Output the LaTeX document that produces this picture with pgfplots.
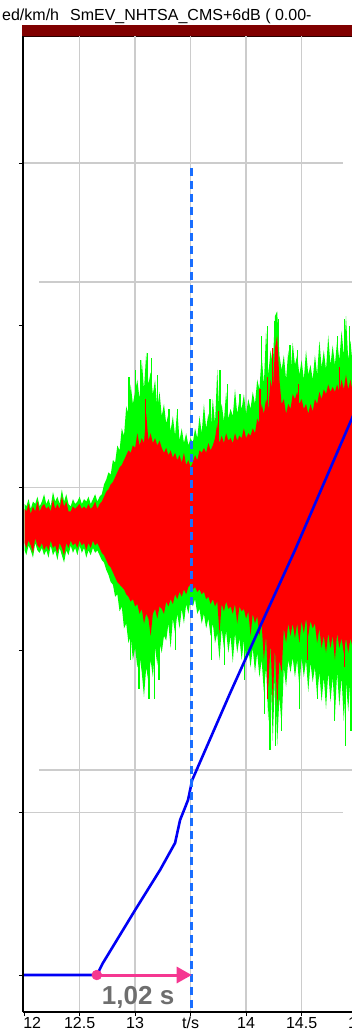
\documentclass[border=0pt]{standalone}
\usepackage{fontspec}
\setmainfont{Liberation Sans}
\usepackage{pgfplots}
\pgfplotsset{compat=1.18}
\usepackage{pgfplotstable}
\usepgfplotslibrary{fillbetween}
\usetikzlibrary{arrows.meta}
\definecolor{sigred}{RGB}{255,0,0}
\definecolor{siggreen}{RGB}{0,255,0}
\definecolor{gridgray}{RGB}{204,204,204}
\definecolor{dashblue}{RGB}{25,110,255}
\definecolor{speedblue}{RGB}{0,0,245}
\definecolor{hotpink}{RGB}{245,55,145}
\definecolor{barred}{RGB}{128,0,0}
\definecolor{txtgray}{RGB}{110,110,110}

% signal envelopes: green top/bottom, red top/bottom
\pgfplotstableread{
t gt gb rt rb
12.005 0.09 -0.10 0.07 -0.07
12.02 0.08 -0.12 0.06 -0.09
12.04 0.11 -0.08 0.09 -0.06
12.06 0.07 -0.10 0.05 -0.08
12.08 0.10 -0.13 0.08 -0.11
12.10 0.09 -0.07 0.06 -0.05
12.12 0.12 -0.10 0.10 -0.08
12.14 0.08 -0.11 0.06 -0.09
12.16 0.10 -0.09 0.08 -0.07
12.18 0.13 -0.12 0.09 -0.10
12.20 0.09 -0.10 0.07 -0.08
12.22 0.11 -0.13 0.08 -0.10
12.24 0.08 -0.08 0.06 -0.06
12.26 0.14 -0.12 0.11 -0.09
12.28 0.10 -0.10 0.07 -0.08
12.30 0.12 -0.14 0.09 -0.11
12.32 0.09 -0.09 0.07 -0.07
12.34 0.15 -0.12 0.12 -0.09
12.36 0.10 -0.15 0.08 -0.12
12.38 0.13 -0.10 0.10 -0.07
12.40 0.09 -0.12 0.06 -0.09
12.42 0.08 -0.08 0.06 -0.06
12.44 0.11 -0.11 0.08 -0.08
12.46 0.09 -0.09 0.07 -0.07
12.48 0.10 -0.12 0.08 -0.09
12.50 0.12 -0.08 0.09 -0.06
12.52 0.09 -0.11 0.07 -0.08
12.54 0.11 -0.09 0.08 -0.07
12.56 0.10 -0.13 0.07 -0.10
12.58 0.12 -0.10 0.09 -0.07
12.60 0.09 -0.12 0.07 -0.09
12.62 0.11 -0.09 0.08 -0.06
12.64 0.13 -0.11 0.10 -0.08
12.66 0.10 -0.10 0.07 -0.07
12.68 0.12 -0.12 0.09 -0.09
12.70 0.13 -0.14 0.10 -0.11
12.72 0.17 -0.15 0.12 -0.12
12.74 0.19 -0.18 0.14 -0.14
12.76 0.22 -0.20 0.15 -0.16
12.78 0.21 -0.23 0.17 -0.17
12.80 0.27 -0.24 0.18 -0.19
12.82 0.26 -0.29 0.20 -0.21
12.84 0.33 -0.28 0.22 -0.23
12.86 0.31 -0.35 0.24 -0.24
12.88 0.40 -0.33 0.25 -0.25
12.90 0.37 -0.42 0.27 -0.26
12.92 0.49 -0.40 0.29 -0.28
12.94 0.46 -0.48 0.31 -0.29
12.96 0.58 -0.45 0.30 -0.31
12.98 0.50 -0.55 0.33 -0.30
13.00 0.55 -0.50 0.32 -0.33
13.02 0.60 -0.58 0.38 -0.32
13.04 0.52 -0.53 0.33 -0.36
13.06 0.68 -0.60 0.36 -0.34
13.08 0.56 -0.70 0.34 -0.40
13.10 0.71 -0.58 0.46 -0.36
13.12 0.58 -0.64 0.35 -0.38
13.14 0.63 -0.55 0.38 -0.45
13.16 0.54 -0.62 0.34 -0.36
13.18 0.60 -0.50 0.36 -0.34
13.20 0.48 -0.57 0.33 -0.38
13.22 0.55 -0.48 0.35 -0.33
13.24 0.45 -0.52 0.32 -0.34
13.26 0.50 -0.45 0.30 -0.36
13.28 0.42 -0.47 0.32 -0.31
13.30 0.46 -0.40 0.29 -0.33
13.32 0.39 -0.50 0.31 -0.30
13.34 0.45 -0.38 0.28 -0.32
13.36 0.37 -0.44 0.30 -0.28
13.38 0.48 -0.36 0.27 -0.30
13.40 0.35 -0.42 0.29 -0.27
13.42 0.40 -0.34 0.26 -0.29
13.44 0.34 -0.40 0.30 -0.26
13.46 0.38 -0.32 0.25 -0.28
13.48 0.33 -0.36 0.27 -0.25
13.50 0.36 -0.30 0.24 -0.24
13.52 0.34 -0.33 0.26 -0.26
13.54 0.40 -0.30 0.29 -0.25
13.56 0.36 -0.36 0.27 -0.27
13.58 0.45 -0.34 0.31 -0.26
13.60 0.38 -0.40 0.30 -0.28
13.62 0.50 -0.36 0.32 -0.27
13.64 0.40 -0.42 0.30 -0.30
13.66 0.46 -0.38 0.34 -0.29
13.68 0.39 -0.45 0.31 -0.32
13.70 0.52 -0.40 0.33 -0.30
13.72 0.42 -0.48 0.36 -0.33
13.74 0.64 -0.44 0.42 -0.31
13.76 0.45 -0.55 0.34 -0.44
13.78 0.50 -0.42 0.37 -0.32
13.80 0.43 -0.50 0.34 -0.35
13.82 0.55 -0.43 0.38 -0.31
13.84 0.44 -0.52 0.35 -0.34
13.86 0.48 -0.45 0.36 -0.33
13.88 0.45 -0.56 0.34 -0.36
13.90 0.56 -0.44 0.38 -0.32
13.92 0.46 -0.52 0.35 -0.40
13.94 0.52 -0.46 0.37 -0.33
13.96 0.48 -0.55 0.36 -0.35
13.98 0.54 -0.47 0.40 -0.34
14.00 0.46 -0.54 0.36 -0.38
14.02 0.52 -0.50 0.38 -0.35
14.04 0.48 -0.58 0.37 -0.45
14.06 0.55 -0.50 0.40 -0.36
14.08 0.50 -0.60 0.38 -0.40
14.10 0.60 -0.52 0.44 -0.37
14.12 0.56 -0.62 0.42 -0.45
14.14 0.70 -0.55 0.50 -0.40
14.16 0.58 -0.68 0.46 -0.55
14.18 0.80 -0.58 0.52 -0.45
14.20 0.62 -0.80 0.48 -0.66
14.22 0.72 -0.60 0.60 -0.48
14.24 0.66 -0.88 0.55 -0.72
14.26 0.86 -0.62 0.73 -0.50
14.28 0.88 -0.90 0.78 -0.74
14.30 0.70 -0.70 0.60 -0.55
14.32 0.64 -0.82 0.50 -0.60
14.34 0.70 -0.58 0.52 -0.42
14.36 0.60 -0.66 0.46 -0.48
14.38 0.72 -0.55 0.50 -0.40
14.40 0.62 -0.60 0.48 -0.45
14.42 0.75 -0.54 0.54 -0.40
14.44 0.66 -0.62 0.52 -0.46
14.46 0.70 -0.55 0.55 -0.40
14.48 0.62 -0.66 0.50 -0.48
14.50 0.68 -0.54 0.52 -0.39
14.52 0.60 -0.62 0.48 -0.44
14.54 0.72 -0.55 0.50 -0.38
14.56 0.62 -0.68 0.46 -0.45
14.58 0.66 -0.56 0.50 -0.39
14.60 0.60 -0.64 0.47 -0.42
14.62 0.70 -0.58 0.52 -0.40
14.64 0.62 -0.70 0.50 -0.48
14.66 0.76 -0.60 0.55 -0.42
14.68 0.65 -0.72 0.52 -0.50
14.70 0.72 -0.62 0.56 -0.45
14.72 0.64 -0.75 0.54 -0.52
14.74 0.78 -0.60 0.58 -0.44
14.76 0.66 -0.72 0.55 -0.50
14.78 0.74 -0.62 0.57 -0.45
14.80 0.66 -0.78 0.55 -0.55
14.82 0.76 -0.60 0.58 -0.44
14.84 0.68 -0.74 0.55 -0.50
14.86 0.80 -0.62 0.60 -0.46
14.88 0.70 -0.80 0.56 -0.52
14.90 0.86 -0.64 0.62 -0.46
14.92 0.68 -0.76 0.56 -0.52
14.94 0.76 -0.62 0.60 -0.46
14.96 0.66 -0.78 0.55 -0.50
14.98 0.74 -0.64 0.58 -0.45
15.00 0.68 -0.72 0.56 -0.50
15.02 0.72 -0.66 0.58 -0.46
15.04 0.70 -0.74 0.56 -0.48
15.06 0.74 -0.66 0.58 -0.46
15.08 0.70 -0.72 0.56 -0.48
15.10 0.72 -0.68 0.57 -0.47
}\sig

% isolated peaks of the green channel (each: base, tip, break)
\pgfplotstableread{
t s
12.945 0 
12.945 0.61
12.945 nan
13.005 0
13.005 0.64
13.005 nan
13.045 0
13.045 0.68
13.045 nan
13.115 0
13.115 0.71
13.115 nan
13.150 0
13.150 0.69
13.150 nan
13.205 0
13.205 0.62
13.205 nan
13.305 0
13.305 0.48
13.305 nan
13.385 0
13.385 0.48
13.385 nan
13.675 0
13.675 0.52
13.675 nan
13.765 0
13.765 0.64
13.765 nan
13.835 0
13.835 0.58
13.835 nan
13.945 0
13.945 0.54
13.945 nan
14.135 0
14.135 0.78
14.135 nan
14.195 0
14.195 0.82
14.195 nan
14.255 0
14.255 0.84
14.255 nan
14.295 0
14.295 0.85
14.295 nan
14.395 0
14.395 0.74
14.395 nan
14.465 0
14.465 0.72
14.465 nan
14.665 0
14.665 0.70
14.665 nan
14.825 0
14.825 0.78
14.825 nan
14.885 0
14.885 0.85
14.885 nan
14.935 0
14.935 0.82
14.935 nan
12.955 0
12.955 -0.55
12.955 nan
13.035 0
13.035 -0.67
13.035 nan
13.125 0
13.125 -0.71
13.125 nan
13.175 0
13.175 -0.71
13.175 nan
13.215 0
13.215 -0.63
13.215 nan
13.365 0
13.365 -0.51
13.365 nan
13.685 0
13.685 -0.55
13.685 nan
13.805 0
13.805 -0.57
13.805 nan
13.985 0
13.985 -0.63
13.985 nan
14.165 0
14.165 -0.77
14.165 nan
14.215 0
14.215 -0.92
14.215 nan
14.265 0
14.265 -0.90
14.265 nan
14.315 0
14.315 -0.84
14.315 nan
14.485 0
14.485 -0.75
14.485 nan
14.645 0
14.645 -0.71
14.645 nan
14.795 0
14.795 -0.80
14.795 nan
14.895 0
14.895 -0.90
14.895 nan
14.945 0
14.945 -0.84
}\gspk

% isolated peaks of the red channel
\pgfplotstableread{
t s
13.095 0
13.095 0.52
13.095 nan
13.755 0
13.755 0.47
13.755 nan
14.125 0
14.125 0.56
14.125 nan
14.195 0
14.195 0.61
14.195 nan
14.235 0
14.235 0.73
14.235 nan
14.275 0
14.275 0.72
14.275 nan
14.475 0
14.475 0.58
14.475 nan
14.845 0
14.845 0.65
14.845 nan
13.135 0
13.135 -0.44
13.135 nan
14.195 0
14.195 -0.71
14.195 nan
14.235 0
14.235 -0.67
14.235 nan
14.285 0
14.285 -0.71
14.285 nan
14.555 0
14.555 -0.55
14.555 nan
14.885 0
14.885 -0.58
}\rspk

% vehicle speed (km/h)
\pgfplotstableread{
t v
12.00 0
12.655 0
12.71 0.74
13.00 4.0
13.225 6.47
13.36 8.13
13.405 9.54
13.477 10.78
13.514 12.0
13.856 17.36
14.153 21.86
14.441 26.17
14.955 34.3
15.10 36.5
}\speed

\begin{document}
\begin{tikzpicture}
% title and top band
\node[anchor=base west, inner sep=0pt, font=\fontsize{16bp}{18bp}\selectfont] at (2bp,-20bp)
  {ed/km/h\hspace{11bp}SmEV\_NHTSA\_CMS+6dB ( 0.00-};
\fill[barred] (22bp,-25bp) rectangle (360bp,-36bp);
\draw[black!70!barred, line width=0.8bp] (22bp,-36bp) -- (360bp,-36bp);

% axis A: speed axis with grid, ticks, x labels
\begin{axis}[
  at={(23bp,-1012bp)}, anchor=south west,
  scale only axis, width=345.2bp, height=976bp,
  xmin=11.99, xmax=15.10, ymin=-2.278, ymax=57.82,
  axis x line*=bottom, axis y line*=left,
  axis line style={-, black, line width=1.4bp},
  xtick={12.5,13,13.5,14,14.5,15},
  xticklabels={12.5,13,t/s,14,14.5,15},
  extra x ticks={12}, extra x tick labels={12},
  extra x tick style={grid=none, xticklabel style={anchor=north west, xshift=-1bp}},
  ytick={0,10,20,30,40,50}, yticklabels={},
  xmajorgrids, major grid style={gridgray, line width=1.3bp},
  tick align=outside, major tick length=4bp,
  tick style={black, line width=0.9bp},
  xticklabel style={font=\fontsize{16bp}{18bp}\selectfont, inner sep=0pt, yshift=-1bp},
  clip=false,
]
\draw[gridgray, line width=1.3bp] (axis cs:12.0,10) -- (axis cs:14.874,10);
\draw[gridgray, line width=1.3bp] (axis cs:12.0,30) -- (axis cs:14.874,30);
\draw[gridgray, line width=1.3bp] (axis cs:12.0,50) -- (axis cs:14.874,50);
\end{axis}

% axis B: microphone signal
\begin{axis}[
  at={(23bp,-1012bp)}, anchor=south west,
  scale only axis, width=345.2bp, height=976bp,
  xmin=11.99, xmax=15.10, ymin=-1.992, ymax=2.008,
  axis lines=none, clip=false, unbounded coords=jump,
]
\draw[gridgray, line width=1.3bp] (axis cs:12.135,1) -- (axis cs:15.1,1);
\draw[gridgray, line width=1.3bp] (axis cs:12.135,0) -- (axis cs:15.1,0);
\draw[gridgray, line width=1.3bp] (axis cs:12.135,-1) -- (axis cs:15.1,-1);
\addplot[siggreen, line width=1.1bp, mark=none] table[x=t,y=s]{\gspk};
\addplot[draw=none, name path=GT] table[x=t,y=gt]{\sig};
\addplot[draw=none, name path=GB] table[x=t,y=gb]{\sig};
\addplot[fill=siggreen, draw=none] fill between[of=GT and GB, on layer=main];
\addplot[draw=none, name path=RT] table[x=t,y=rt]{\sig};
\addplot[draw=none, name path=RB] table[x=t,y=rb]{\sig};
\addplot[fill=sigred, draw=none] fill between[of=RT and RB, on layer=main];
\addplot[sigred, line width=1.1bp, mark=none] table[x=t,y=s]{\rspk};
\end{axis}

% axis C: speed curve and annotation
\begin{axis}[
  at={(23bp,-1012bp)}, anchor=south west,
  scale only axis, width=345.2bp, height=976bp,
  xmin=11.99, xmax=15.10, ymin=-2.278, ymax=57.82,
  axis lines=none, clip=false,
]
\addplot[speedblue, line width=2.6bp] table[x=t,y=v]{\speed};
\addplot[dashblue, line width=3bp, dash pattern=on 8bp off 5bp] coordinates {(13.51,49.7) (13.51,-2.278)};
\addplot[hotpink, line width=3bp, -{Triangle[length=15bp,width=16bp]}] coordinates {(12.655,0) (13.51,0)};
\addplot[only marks, mark=*, mark size=5bp, hotpink] coordinates {(12.655,0)};
\node[font=\bfseries\fontsize{26bp}{28bp}\selectfont, text=txtgray, inner sep=0pt] at (axis cs:13.027,-1.35) {1,02 s};
\end{axis}

\pgfresetboundingbox
\path[use as bounding box] (0bp,0bp) rectangle (352bp,-1033bp);
\end{tikzpicture}
\end{document}
